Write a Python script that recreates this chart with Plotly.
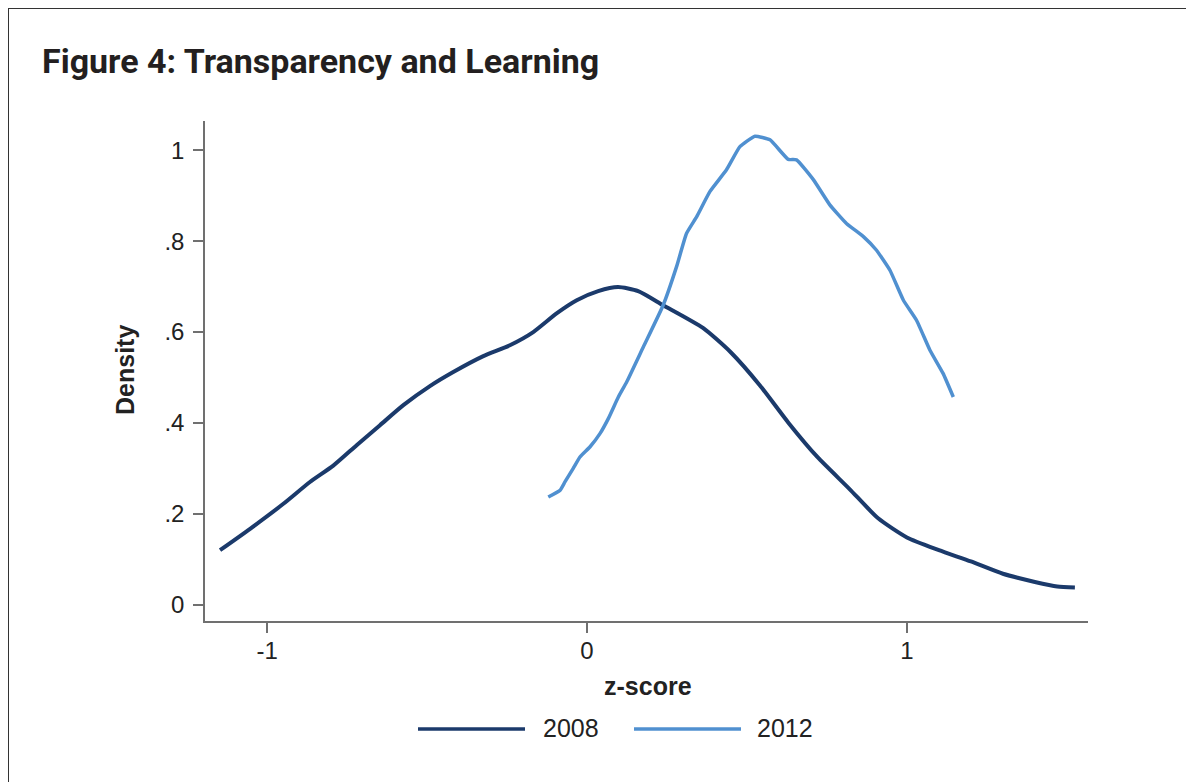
import plotly.graph_objects as go

# ---- data ----
z_2008 = [-1.147, -1.053, -0.949, -0.866, -0.793, -0.720, -0.647, -0.574, -0.491, -0.418,
          -0.324, -0.241, -0.168, -0.095, -0.032, 0.035, 0.097, 0.16, 0.238, 0.3625,
          0.45, 0.54, 0.63, 0.72, 0.82, 0.91, 1.0, 1.1, 1.2, 1.3, 1.4, 1.47, 1.525]
density_2008 = [0.12, 0.167, 0.222, 0.270, 0.306, 0.351, 0.395, 0.439, 0.481, 0.512,
                0.547, 0.571, 0.600, 0.641, 0.670, 0.690, 0.699, 0.690, 0.659, 0.609,
                0.555, 0.483, 0.40, 0.325, 0.255, 0.19, 0.148, 0.12, 0.095, 0.068, 0.05, 0.04, 0.038]

z_2012 = [-0.121, -0.084, -0.069, -0.043, -0.022, 0.009, 0.041, 0.067, 0.098, 0.124,
          0.176, 0.238, 0.28, 0.311, 0.343, 0.384, 0.436, 0.478, 0.525, 0.572,
          0.629, 0.655, 0.708, 0.759, 0.811, 0.864, 0.905, 0.947, 0.989, 1.03,
          1.072, 1.113, 1.145]
density_2012 = [0.237, 0.252, 0.270, 0.300, 0.325, 0.347, 0.377, 0.41, 0.457, 0.490,
                0.567, 0.659, 0.744, 0.817, 0.854, 0.909, 0.957, 1.008, 1.031, 1.023,
                0.980, 0.979, 0.935, 0.880, 0.839, 0.810, 0.780, 0.736, 0.670, 0.626,
                0.560, 0.509, 0.457]

x_ticks = [-1, 0, 1]
x_tick_labels = ["-1", "0", "1"]
y_ticks = [0, 0.2, 0.4, 0.6, 0.8, 1]
y_tick_labels = ["0", ".2", ".4", ".6", ".8", "1"]

series_names = ["2008", "2012"]
series_colors = ["#1b3a6b", "#5090d0"]

W, H = 1194, 782
OFF = 8  # page body offset
# screen-space plot area
SL, SR, ST, SB = 205, 1088, 121, 621
ML, MT = SL - OFF, ST - OFF
pw, ph = SR - SL, SB - ST
MR, MB = W - ML - pw, H - MT - ph

def px(x):
    return (x - SL) / pw

def py(y):
    return (SB - y) / ph

font_main = "Liberation Sans, Arial, sans-serif"
txt = "#222"

fig = go.Figure()
fig.add_trace(go.Scatter(x=z_2008, y=density_2008, mode="lines", name=series_names[0],
                         line=dict(color=series_colors[0], width=4, shape="spline", smoothing=0.6)))
fig.add_trace(go.Scatter(x=z_2012, y=density_2012, mode="lines", name=series_names[1],
                         line=dict(color=series_colors[1], width=3.5, shape="spline", smoothing=0.4)))

axis_common = dict(showgrid=False, zeroline=False, showline=True, linecolor="#707070",
                   linewidth=1.5, ticks="outside", ticklen=10, tickcolor="#707070",
                   tickwidth=1.5, tickfont=dict(family=font_main, size=24, color=txt))

fig.update_xaxes(range=[-1.194, 1.566], tickvals=x_ticks, ticktext=x_tick_labels,
                 ticklabelstandoff=-3, **axis_common)
fig.update_yaxes(range=[-0.036, 1.0645], tickvals=y_ticks, ticktext=y_tick_labels,
                 ticklabelstandoff=4, **axis_common)

annotations = [
    dict(text="<b>z-score</b>", xref="paper", yref="paper", x=px(648), y=py(686),
         xanchor="center", yanchor="middle", showarrow=False,
         font=dict(family=font_main, size=25, color=txt)),
    dict(text="<b>Density</b>", xref="paper", yref="paper", x=px(125), y=py(370),
         xanchor="center", yanchor="middle", showarrow=False, textangle=-90,
         font=dict(family=font_main, size=25, color=txt)),
]
shapes = [
    dict(type="line", xref="paper", yref="paper", x0=px(8), x1=px(8), y0=py(8), y1=py(800),
         line=dict(color="#333", width=2)),
    dict(type="line", xref="paper", yref="paper", x0=px(8), x1=px(1200), y0=py(8), y1=py(8),
         line=dict(color="#333", width=2)),
]

# manual legend
legend_items = [(418, 525, 541), (634, 741, 755)]
for (x0, x1, xt), name, col in zip(legend_items, series_names, series_colors):
    shapes.append(dict(type="line", xref="paper", yref="paper", x0=px(x0), x1=px(x1),
                       y0=py(729), y1=py(729), line=dict(color=col, width=3.5)))
    annotations.append(dict(text=name, xref="paper", yref="paper", x=px(xt), y=py(728),
                            xanchor="left", yanchor="middle", showarrow=False,
                            font=dict(family=font_main, size=25, color=txt)))

fig.update_layout(
    width=W, height=H,
    margin=dict(l=ML, r=MR, t=MT, b=MB, autoexpand=False),
    paper_bgcolor="white", plot_bgcolor="white",
    title=dict(text="<b>Figure 4: Transparency and Learning</b>", xref="container", yref="container",
               x=(42 - OFF) / W, y=1 - (61 - OFF) / H, xanchor="left", yanchor="middle",
               font=dict(family="Roboto, sans-serif", size=34, color="#231f20")),
    showlegend=False,
    annotations=annotations,
    shapes=shapes,
)

fig.write_html("out.html")
